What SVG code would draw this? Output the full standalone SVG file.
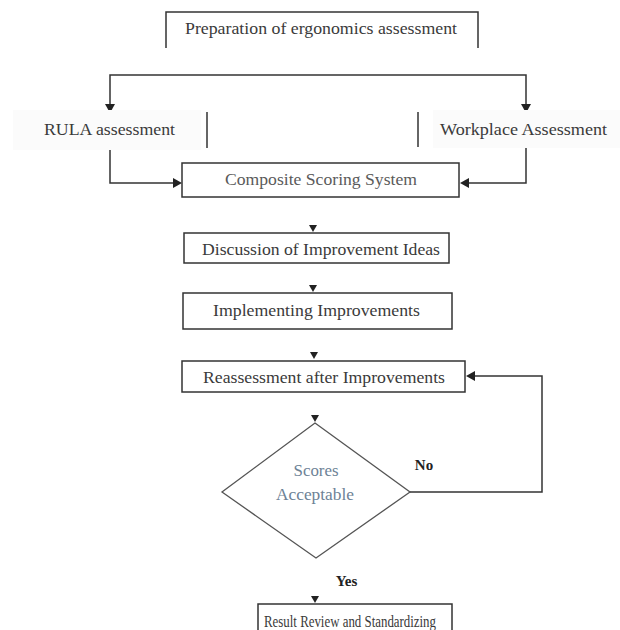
<svg xmlns="http://www.w3.org/2000/svg" width="620" height="630" viewBox="0 0 620 630">
<style>
.box{fill:#fff;stroke:#333;stroke-width:1.5}
.ln{fill:none;stroke:#333;stroke-width:1.5}
.ah{fill:#222}
.t{font-family:"Liberation Serif","Times New Roman",serif;font-size:17px;fill:#3a3a3a;text-anchor:middle}
.lt{fill:#5a5a5a}
.q{fill:#6d8296;font-size:16px}
.b{font-weight:bold;fill:#222;font-size:15px}
.faint{fill:#fbfbfb}
</style>
<rect width="620" height="630" fill="#fff"/>
<g id="connectors">
<path class="ln" d="M110,106 V75 H526 V106"/>
<polygon class="ah" points="105,104 115,104 110,113"/>
<polygon class="ah" points="521,104 531,104 526,113"/>
<path class="ln" d="M110,148 V183 H176"/>
<polygon class="ah" points="173,178 173,188 182,183"/>
<path class="ln" d="M526,148 V183 H466"/>
<polygon class="ah" points="469,178 469,188 460,183"/>
<line class="ln" x1="207" y1="112" x2="207" y2="148"/>
<line class="ln" x1="418" y1="112" x2="418" y2="147"/>
<polygon class="ah" points="309,225 317,225 313,232"/>
<polygon class="ah" points="309,285 317,285 313,292"/>
<polygon class="ah" points="310,352 318,352 314,359"/>
<polygon class="ah" points="311,415 319,415 315,422"/>
<polygon class="ah" points="311,596 319,596 315,603"/>
<path class="ln" d="M410,492 H542 V376 H474"/>
<polygon class="ah" points="475,371 475,381 466,376"/>
</g>
<g id="n-prep">
<path class="ln" d="M166,48 V12 H478 V48"/>
<text class="t" x="321" y="34" textLength="272" lengthAdjust="spacingAndGlyphs">Preparation of ergonomics assessment</text>
</g>
<g id="n-rula">
<rect class="faint" x="13" y="110" width="188" height="40"/>
<text class="t" x="109.5" y="135" textLength="131" lengthAdjust="spacingAndGlyphs">RULA assessment</text>
</g>
<g id="n-work">
<rect class="faint" x="433" y="110" width="187" height="38"/>
<text class="t" x="523.5" y="135" textLength="167" lengthAdjust="spacingAndGlyphs">Workplace Assessment</text>
</g>
<g id="n-composite">
<rect class="box" x="182" y="163" width="277" height="34"/>
<text class="t lt" x="321" y="185" textLength="192" lengthAdjust="spacingAndGlyphs">Composite Scoring System</text>
</g>
<g id="n-discussion">
<rect class="box" x="184" y="233" width="265" height="30"/>
<text class="t" x="321" y="255" textLength="238" lengthAdjust="spacingAndGlyphs">Discussion of Improvement Ideas</text>
</g>
<g id="n-implement">
<rect class="box" x="183" y="293" width="269" height="36"/>
<text class="t" x="316.5" y="316" textLength="207" lengthAdjust="spacingAndGlyphs">Implementing Improvements</text>
</g>
<g id="n-reassess">
<rect class="box" x="182" y="361" width="283" height="31"/>
<text class="t" x="324" y="383" textLength="242" lengthAdjust="spacingAndGlyphs">Reassessment after Improvements</text>
</g>
<g id="n-decision">
<polygon points="315,423 410,492 316,558 222,492" fill="#fff" stroke="#555" stroke-width="1.3"/>
<text class="t q" x="316" y="476" textLength="45" lengthAdjust="spacingAndGlyphs">Scores</text>
<text class="t q" x="315" y="500" textLength="78" lengthAdjust="spacingAndGlyphs">Acceptable</text>
</g>
<g id="labels">
<text class="t b" x="424" y="470">No</text>
<text class="t b" x="346.5" y="586">Yes</text>
</g>
<g id="n-result">
<rect class="box" x="258" y="604" width="194" height="40"/>
<text class="t" x="350" y="627" textLength="172" lengthAdjust="spacingAndGlyphs">Result Review and Standardizing</text>
</g>
</svg>
